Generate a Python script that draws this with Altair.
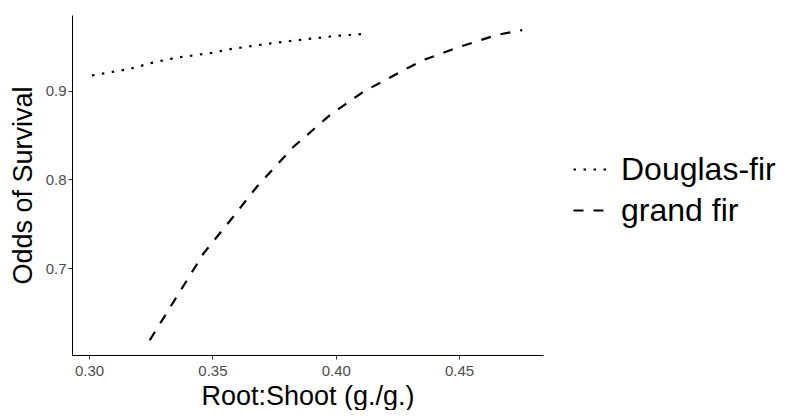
import altair as alt
import pandas as pd

species_df = "Douglas-fir"
df_x = [0.3012, 0.3167, 0.3249, 0.3357, 0.3492, 0.3573, 0.3722, 0.3857, 0.4006, 0.4120]
df_y = [0.917, 0.9244, 0.9308, 0.9372, 0.9421, 0.9466, 0.9526, 0.9570, 0.9616, 0.9638]

species_gf = "grand fir"
gf_x = [0.3246, 0.3465, 0.3573, 0.3681, 0.3830, 0.3979, 0.4114, 0.4290, 0.4357, 0.4506, 0.4655, 0.4756]
gf_y = [0.619, 0.717, 0.754, 0.792, 0.837, 0.873, 0.899, 0.925, 0.9345, 0.9496, 0.9627, 0.968]

x_ticks = [0.30, 0.35, 0.40, 0.45]
y_ticks = [0.7, 0.8, 0.9]

rows = []
for i, (x, y) in enumerate(zip(df_x, df_y)):
    rows.append({"species": species_df, "rs": x, "odds": y, "order": i})
for i, (x, y) in enumerate(zip(gf_x, gf_y)):
    rows.append({"species": species_gf, "rs": x, "odds": y, "order": i})
data = pd.DataFrame(rows)

FONT = "Liberation Sans"

chart = alt.Chart(data).mark_line(color="black", strokeWidth=2.2).encode(
    x=alt.X("rs:Q",
            scale=alt.Scale(domain=[0.2931, 0.484], nice=False, zero=False),
            axis=alt.Axis(values=x_ticks, format=".2f", title="Root:Shoot (g./g.)",
                          grid=False, domainColor="black", domainWidth=1,
                          tickColor="#333333", tickSize=4, tickWidth=1,
                          labelColor="#4D4D4D", labelFontSize=15, labelFont=FONT,
                          labelPadding=4, titleFont=FONT, titleFontSize=27,
                          titleFontWeight="normal", titleColor="black", titlePadding=5)),
    y=alt.Y("odds:Q",
            scale=alt.Scale(domain=[0.6024, 0.985], nice=False, zero=False),
            axis=alt.Axis(values=y_ticks, format=".1f", title="Odds of Survival",
                          grid=False, domainColor="black", domainWidth=1,
                          tickColor="#333333", tickSize=4, tickWidth=1,
                          labelColor="#4D4D4D", labelFontSize=15, labelFont=FONT,
                          labelPadding=2, titleFont=FONT, titleFontSize=27,
                          titleFontWeight="normal", titleColor="black", titlePadding=8)),
    strokeDash=alt.StrokeDash("species:N",
        scale=alt.Scale(domain=[species_df, species_gf], range=[[2.5, 7.5], [10, 10]]),
        legend=alt.Legend(title="", orient="none", legendX=500, legendY=136,
                          symbolType="stroke", symbolSize=1156, symbolStrokeWidth=2.2,
                          symbolStrokeColor="black", labelFont=FONT, labelFontSize=32,
                          labelColor="black", labelOffset=12, rowPadding=6, padding=0)),
    order="order:Q",
).properties(
    width=471, height=340,
    padding={"left": 64, "top": 7, "right": 235, "bottom": 55},
    autosize=alt.AutoSizeParams(type="none"),
    background="white",
).configure_view(stroke=None)

chart.save("out.html", embed_options={"renderer": "svg", "actions": False})
